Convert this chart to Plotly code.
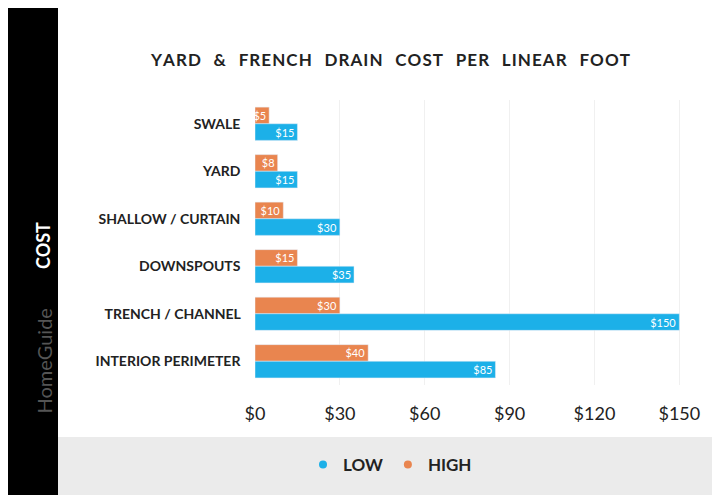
import plotly.graph_objects as go

categories = ["SWALE", "YARD", "SHALLOW / CURTAIN", "DOWNSPOUTS", "TRENCH / CHANNEL", "INTERIOR PERIMETER"]
low_vals = [15, 15, 30, 35, 150, 85]
high_vals = [5, 8, 10, 15, 30, 40]
tick_vals = [0, 30, 60, 90, 120, 150]
tick_text = ["$0", "$30", "$60", "$90", "$120", "$150"]

# the page puts the figure 8px in from the top-left corner
OFF = 8
W, H = 720 - OFF, 495 - OFF
L, R, T, B = 255 - OFF, 43 - OFF, 100 - OFF, 110
pw, ph = W - L - R, H - T - B

def px(x):
    return (x - OFF - L) / pw

def py(y):
    return (H - B - (y - OFF)) / ph

BLUE = "#1cb0e8"
ORANGE = "#e9854f"
FONT = "Lato"

fig = go.Figure()
fig.add_trace(go.Bar(y=categories, x=high_vals, name="HIGH", orientation="h", showlegend=False,
                     marker_color=ORANGE, text=["$%d" % v for v in high_vals],
                     textposition="inside", insidetextanchor="end", textangle=0,
                     constraintext="none",
                     textfont=dict(color="white", size=11, family=FONT)))
fig.add_trace(go.Bar(y=categories, x=low_vals, name="LOW", orientation="h", showlegend=False,
                     marker_color=BLUE, text=["$%d" % v for v in low_vals],
                     textposition="inside", insidetextanchor="end", textangle=0,
                     constraintext="none",
                     textfont=dict(color="white", size=11, family=FONT)))
# legend entries drawn as dots
for name, col in [("<b>LOW</b>", BLUE), ("<b>HIGH</b>", ORANGE)]:
    fig.add_trace(go.Scatter(x=[None], y=[None], mode="markers", name=name,
                             marker=dict(color=col, size=8, symbol="circle")))

shapes = [
    dict(type="rect", xref="paper", yref="paper", x0=px(0), x1=px(58), y0=py(500), y1=py(0),
         fillcolor="black", line_width=0, layer="below"),
    dict(type="rect", xref="paper", yref="paper", x0=px(58), x1=px(730), y0=py(500), y1=py(437),
         fillcolor="#ebebeb", line_width=0, layer="below"),
]

annotations = [
    dict(text="<b>Y A R D  &amp;  F R E N C H  D R A I N  C O S T  P E R  L I N E A R  F O O T</b>"
         .replace("  ", "\u2003").replace(" ", "\u200a"),
         xref="paper", yref="paper",
         x=px(390), y=py(47), xanchor="center", showarrow=False,
         font=dict(size=17, color="#222", family=FONT)),
    dict(text="<b>COST</b>", xref="paper", yref="paper", x=px(30), y=py(245), textangle=-90,
         showarrow=False, font=dict(size=18, color="white", family=FONT)),
    dict(text="HomeGuide", xref="paper", yref="paper", x=px(30), y=py(415), textangle=-90,
         showarrow=False, font=dict(size=20, color="#555", family=FONT)),
]

fig.update_layout(
    width=W, height=H, margin=dict(l=L, r=R, t=T, b=B, autoexpand=False),
    paper_bgcolor="white", plot_bgcolor="white",
    barmode="group", bargap=0.3, bargroupgap=0,
    shapes=shapes, annotations=annotations,
    showlegend=True,
    legend=dict(orientation="h", x=px(390), xanchor="center",
                y=py(465), yanchor="middle", bgcolor="rgba(0,0,0,0)",
                font=dict(size=17, color="#222", family=FONT), itemwidth=30),
    xaxis=dict(range=[0, 152], tickvals=tick_vals, ticktext=tick_text, showgrid=True,
               gridcolor="#f0f0f0", zeroline=False, automargin=False,
               ticks="outside", ticklen=12, tickcolor="white",
               tickfont=dict(size=18, color="#222", family=FONT)),
    yaxis=dict(autorange="reversed", ticksuffix="    ", automargin=False,
               tickfont=dict(size=14, color="#222", family=FONT)),
    font=dict(family=FONT),
)
fig.update_yaxes(tickprefix="<b>")
fig.update_xaxes(tickprefix="<b>")
fig.write_html("out.html")
